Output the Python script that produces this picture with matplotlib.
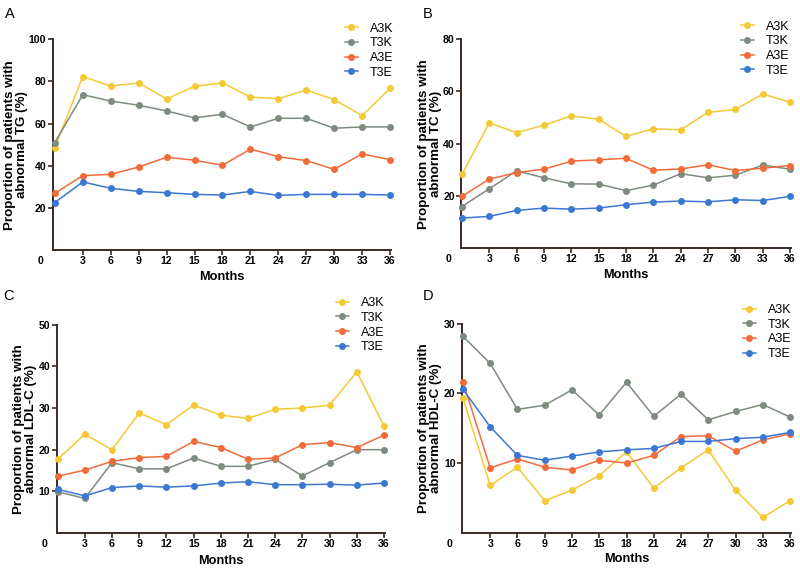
import matplotlib
matplotlib.use("Agg")
import matplotlib.pyplot as plt

plt.rcParams['font.family'] = ['Liberation Sans', 'DejaVu Sans']

months = [0, 3, 6, 9, 12, 15, 18, 21, 24, 27, 30, 33, 36]
xticks = [3, 6, 9, 12, 15, 18, 21, 24, 27, 30, 33, 36]
series_names = ['A3K', 'T3K', 'A3E', 'T3E']

tg_a3k = [48.6, 82.3, 77.8, 79.3, 71.7, 77.7, 79.3, 72.6, 71.8, 75.9, 71.4, 63.8, 76.7]
tg_t3k = [51.0, 73.7, 70.7, 68.7, 66.0, 62.7, 64.4, 58.4, 62.5, 62.5, 57.8, 58.4, 58.4]
tg_a3e = [26.9, 35.3, 35.9, 39.4, 44.0, 42.6, 40.2, 47.9, 44.3, 42.4, 38.3, 45.6, 42.9]
tg_t3e = [22.5, 32.3, 29.3, 27.8, 27.2, 26.4, 26.1, 27.8, 25.9, 26.4, 26.4, 26.4, 26.1]

tc_a3k = [28.2, 48.0, 44.2, 47.1, 50.6, 49.4, 42.8, 45.7, 45.3, 52.0, 53.1, 59.0, 55.9]
tc_t3k = [15.9, 22.7, 29.6, 26.9, 24.6, 24.5, 22.0, 24.1, 28.5, 26.9, 27.9, 31.8, 30.2]
tc_a3e = [19.8, 26.4, 28.9, 30.2, 33.3, 33.8, 34.4, 29.8, 30.3, 31.9, 29.7, 30.6, 31.6]
tc_t3e = [11.5, 12.1, 14.4, 15.3, 14.9, 15.3, 16.6, 17.6, 18.0, 17.7, 18.5, 18.2, 19.8]

ldl_a3k = [17.7, 23.7, 20.0, 28.8, 26.0, 30.7, 28.3, 27.5, 29.7, 30.0, 30.7, 38.7, 25.6]
ldl_t3k = [9.9, 8.3, 16.9, 15.4, 15.4, 18.0, 16.0, 16.0, 17.7, 13.7, 16.9, 20.0, 20.0]
ldl_a3e = [13.6, 15.1, 17.2, 18.1, 18.4, 22.0, 20.5, 17.7, 18.0, 21.2, 21.7, 20.5, 23.5]
ldl_t3e = [10.5, 8.9, 10.9, 11.3, 11.0, 11.3, 12.0, 12.3, 11.6, 11.6, 11.7, 11.5, 12.0]

hdl_a3k = [19.3, 6.8, 9.4, 4.6, 6.1, 8.2, 11.6, 6.4, 9.3, 11.9, 6.1, 2.2, 4.6]
hdl_t3k = [28.2, 24.3, 17.7, 18.3, 20.5, 16.9, 21.6, 16.7, 19.9, 16.2, 17.4, 18.4, 16.6]
hdl_a3e = [21.7, 9.3, 10.6, 9.4, 9.0, 10.4, 10.0, 11.1, 13.8, 13.9, 11.7, 13.3, 14.2]
hdl_t3e = [20.6, 15.2, 11.1, 10.4, 11.0, 11.6, 11.9, 12.1, 13.1, 13.1, 13.5, 13.7, 14.4]

colors = ['#F4C936', '#7E8B7F', '#F26B3A', '#3C78D2']

W, H = 800.0, 572.0

# layout in pixels: (spine_x, right_x, top_y, bottom_y)
panels = [
    dict(letter='A', data=[tg_a3k, tg_t3k, tg_a3e, tg_t3e], ylabel='Proportion of patients with\nabnormal TG (%)',
         ymax=100, yticks=[20, 40, 60, 80, 100], px=(52.5, 391, 39.3, 250), xlim=(-0.25, 36.1),
         labx=28, leg=(393, 22.5), let=(5, 7), xlp=3.5),
    dict(letter='B', data=[tc_a3k, tc_t3k, tc_a3e, tc_t3e], ylabel='Proportion of patients with\nabnormal TC (%)',
         ymax=80, yticks=[20, 40, 60, 80], px=(461, 791, 39.3, 248), xlim=(-0.1, 36.1),
         labx=442, leg=(789, 20.5), let=(423, 7), xlp=3.5),
    dict(letter='C', data=[ldl_a3k, ldl_t3k, ldl_a3e, ldl_t3e], ylabel='Proportion of patients with\nabnormal LDL-C (%)',
         ymax=50, yticks=[10, 20, 30, 40, 50], px=(56.7, 385, 324.7, 533), xlim=(-0.1, 36.1),
         labx=37, leg=(384, 297), let=(3, 289), xlp=4),
    dict(letter='D', data=[hdl_a3k, hdl_t3k, hdl_a3e, hdl_t3e], ylabel='Proportion of patients with\nabnormal HDL-C (%)',
         ymax=30, yticks=[10, 20, 30], px=(462, 791, 323.7, 532.7), xlim=(-0.1, 36.1),
         labx=442, leg=(791, 304), let=(423, 289), xlp=3),
]

fig = plt.figure(figsize=(8, 5.72), dpi=100)
spine_color = '#3a2c24'

for p in panels:
    x0, x1, yt, yb = p['px']
    ax = fig.add_axes([x0 / W, 1 - yb / H, (x1 - x0) / W, (yb - yt) / H])
    for name, vals, c in zip(series_names, p['data'], colors):
        ax.plot(months, vals, color=c, lw=1.1, marker='o', ms=4, label=name, clip_on=False, zorder=3)
    ax.set_xlim(*p['xlim'])
    ax.set_ylim(0, p['ymax'])
    ax.set_xticks(xticks)
    ax.set_yticks(p['yticks'])
    for s in ['top', 'right']:
        ax.spines[s].set_visible(False)
    for s in ['left', 'bottom']:
        ax.spines[s].set_color(spine_color)
        ax.spines[s].set_linewidth(1.4)
    ax.tick_params(axis='both', colors=spine_color, width=1.2, length=3.5, labelsize=7.6, labelcolor='black', pad=1)
    for lab in ax.get_xticklabels() + ax.get_yticklabels():
        lab.set_fontweight('bold')
    ax.annotate('0', xy=(0, 0), xycoords='axes fraction', xytext=(-6.5, -4.3), textcoords='offset points',
                ha='right', va='top', fontsize=7.6, fontweight='bold')
    ax.set_xlabel('Months', fontsize=9.2, fontweight='bold', labelpad=p['xlp'])
    ax.set_ylabel(p['ylabel'], fontsize=9.6, fontweight='bold', linespacing=0.95)
    ax.yaxis.set_label_coords((p['labx'] - x0) / (x1 - x0), 0.5)
    lx, ly = p['leg']
    fig.legend(*ax.get_legend_handles_labels(), loc='upper right', bbox_to_anchor=(lx / W, 1 - ly / H),
               frameon=False, fontsize=9, handlelength=1.05, handletextpad=0.95, labelspacing=0.22,
               borderaxespad=0, borderpad=0)
    tx, ty = p['let']
    fig.text(tx / W, 1 - ty / H, p['letter'], fontsize=10.5, ha='left', va='top')

fig.savefig('out.png', dpi=100)
